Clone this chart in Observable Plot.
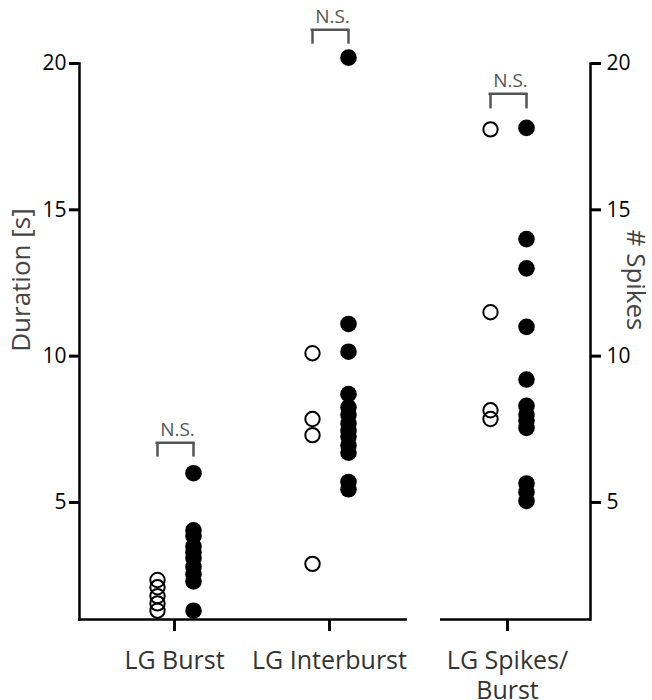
<!DOCTYPE html>
<html><head><meta charset="utf-8">
<script src="https://cdn.jsdelivr.net/npm/d3@7"></script>
<script src="https://cdn.jsdelivr.net/npm/@observablehq/plot@0.6"></script>
<style>body{margin:0;background:#fff}</style>
</head><body><div id="chart"></div>
<script>
const categories = ["LG Burst", "LG Interburst", "LG Spikes/Burst"];
const yTicks = [5, 10, 15, 20];
const burstOpen = [2.35, 2.1, 1.8, 1.55, 1.3];
const burstFilled = [6.0, 4.05, 3.85, 3.5, 3.3, 3.1, 2.8, 2.55, 2.3, 1.3];
const interOpen = [10.1, 7.85, 7.3, 2.9];
const interFilled = [20.2, 11.1, 10.15, 8.7, 8.25, 8.0, 7.7, 7.45, 7.25, 6.95, 6.7, 5.7, 5.45];
const spikesOpen = [17.75, 11.5, 8.15, 7.85];
const spikesFilled = [17.8, 14.0, 13.0, 11.0, 9.2, 8.3, 8.0, 7.8, 7.55, 5.65, 5.35, 5.05];
const nsLabel = "N.S.";
const nsTop = [7.04, 21.15, 18.97];
const nsLeg = [6.55, 20.66, 18.45];
const yTitleLeft = "Duration [s]";
const yTitleRight = "# Spikes";
const titleLevel = [12.6];

const idx = categories.map((c, i) => i);
const openRows = [];
const filledRows = [];
[[burstOpen, burstFilled], [interOpen, interFilled], [spikesOpen, spikesFilled]].forEach(([o, f], i) => {
  o.forEach(v => openRows.push({cat: i, value: v}));
  f.forEach(v => filledRows.push({cat: i, value: v}));
});
const ns = idx.map(i => ({cat: i, top: nsTop[i], leg: nsLeg[i]}));
const seg1 = [{y: 1, a: idx[0], b: idx[1]}];
const seg2 = [{y: 1, a: idx[2], b: idx[2]}];

const font = "'Open Sans', sans-serif";
const plot = Plot.plot({
  width: 652,
  height: 700,
  marginLeft: 79,
  marginRight: 62,
  marginTop: 63,
  marginBottom: 81,
  style: {fontFamily: font, background: "white", overflow: "visible"},
  x: {type: "linear", domain: idx, range: [174, 329, 507]},
  y: {domain: [1, 20]},
  marks: [
    Plot.frame({anchor: "left", stroke: "black", strokeWidth: 2.5}),
    Plot.frame({anchor: "right", stroke: "black", strokeWidth: 2.5}),
    Plot.ruleY(seg1, {y: "y", x1: "a", x2: "b", insetLeft: -96, insetRight: -78, stroke: "black", strokeWidth: 2.5}),
    Plot.ruleY(seg2, {y: "y", x1: "a", x2: "b", insetLeft: -67, insetRight: -84, stroke: "black", strokeWidth: 2.5}),
    Plot.axisY({anchor: "left", ticks: yTicks, tickSize: 10, tickPadding: 3, fontSize: 21, strokeWidth: 3, stroke: "black", fill: "black", label: null}),
    Plot.axisY({anchor: "right", ticks: yTicks, tickSize: 10, tickPadding: 6, fontSize: 21, strokeWidth: 3, stroke: "black", fill: "black", label: null}),
    Plot.axisX({anchor: "bottom", ticks: idx, tickSize: 12, tickPadding: 16, fontSize: 25, strokeWidth: 3, stroke: "black", fill: "#333", label: null, lineHeight: 1.2, tickFormat: i => categories[i].replace("/", "/\n")}),
    Plot.text(titleLevel, {y: d => d, frameAnchor: "left", textAnchor: "middle", dx: -58, rotate: -90, text: () => yTitleLeft, fontSize: 26, fill: "#444"}),
    Plot.text(titleLevel, {y: d => d, frameAnchor: "right", textAnchor: "middle", dx: 45, rotate: 90, text: () => yTitleRight, fontSize: 26, fill: "#444"}),
    Plot.dot(openRows, {x: "cat", y: "value", dx: -17, r: 7.2, fill: "none", stroke: "black", strokeWidth: 2}),
    Plot.dot(filledRows, {x: "cat", y: "value", dx: 19, r: 8.3, fill: "black", stroke: "none"}),
    Plot.ruleY(ns, {y: "top", x1: "cat", x2: "cat", insetLeft: -18.5, insetRight: -20.5, stroke: "#555", strokeWidth: 2.5}),
    Plot.ruleX(ns, {x: "cat", y1: "top", y2: "leg", dx: -17, stroke: "#555", strokeWidth: 2.5}),
    Plot.ruleX(ns, {x: "cat", y1: "top", y2: "leg", dx: 19, stroke: "#555", strokeWidth: 2.5}),
    Plot.text(ns, {x: "cat", y: "top", dy: -13, dx: 3, text: () => nsLabel, fontSize: 19, fill: "#555"})
  ]
});
document.getElementById("chart").appendChild(plot);
</script>
</body></html>
